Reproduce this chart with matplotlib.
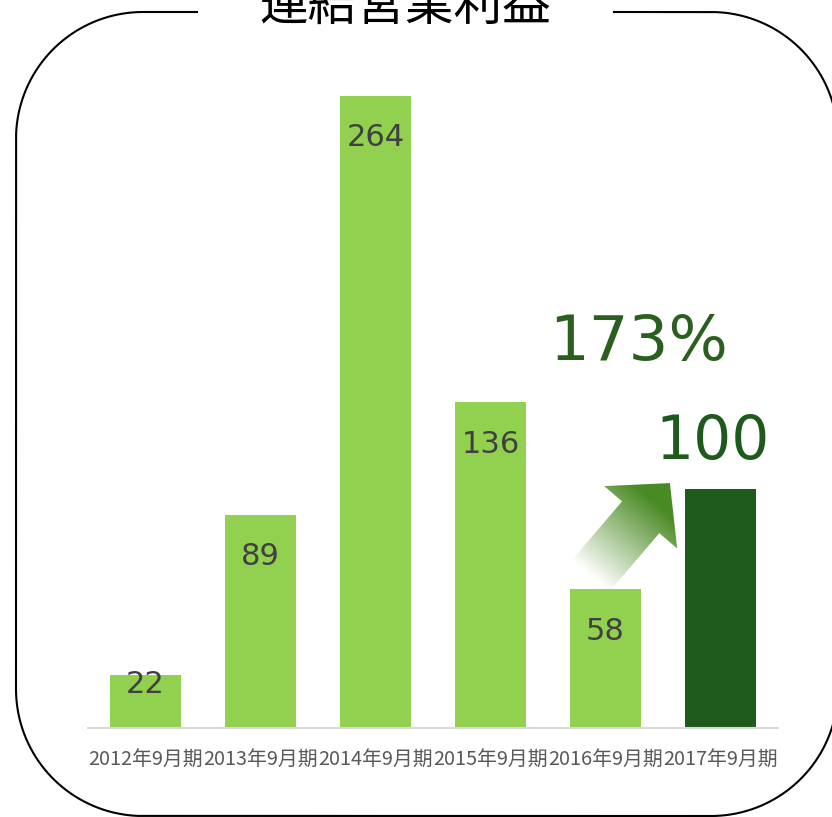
import matplotlib.pyplot as plt
import numpy as np
from matplotlib.patches import Rectangle, Polygon

plt.rcParams['font.family'] = ['Noto Sans CJK JP', 'DejaVu Sans']

# 連結営業利益 (百万円)
periods = ["2012年9月期", "2013年9月期", "2014年9月期", "2015年9月期", "2016年9月期", "2017年9月期"]
profit = [22, 89, 264, 136, 58, 100]
growth_text = "173%"
title = "連結営業利益"

light_green = "#92d050"
dark_green = "#1f5a1d"
label_grey = "#404040"

W, H = 832, 817
fig = plt.figure(figsize=(W / 100, H / 100), dpi=100)

# background layer in pixel coordinates: frame, title, arrow
bg = fig.add_axes([0, 0, 1, 1], zorder=0)
bg.set_xlim(0, W)
bg.set_ylim(0, H)
bg.axis("off")

ax = fig.add_axes([88 / W, 89 / H, 690 / W, 668 / H], zorder=1)
ax.patch.set_alpha(0)

x = np.arange(len(periods))
colors = [light_green] * (len(periods) - 1) + [dark_green]
ax.bar(x, profit, width=0.62, color=colors, zorder=2)
ax.set_xlim(-0.5, len(periods) - 0.5)
ax.set_ylim(0, 279)

for s in ["top", "right", "left"]:
    ax.spines[s].set_visible(False)
ax.spines["bottom"].set_color("#d9d9d9")
ax.spines["bottom"].set_linewidth(1.5)
ax.set_yticks([])
ax.set_xticks(x)
ax.set_xticklabels(periods, fontsize=14.3, color="#595959")
ax.tick_params(axis="x", length=0, pad=15)

# values inside the bars, the last one large above its bar
for i, v in enumerate(profit[:-1]):
    ax.text(i, max(v - 17.5, 18.0), str(v), ha="center", va="center",
            fontsize=22, color=label_grey, family="DejaVu Sans", zorder=3)
ax.annotate(str(profit[-1]), (x[-1], profit[-1]), xytext=(-6, 33),
            textcoords="offset points", ha="center", va="center",
            fontsize=43, color=dark_green, family="DejaVu Sans")
ax.text(4.29, 161, growth_text, ha="center", va="center",
        fontsize=45, color="#2b5f1f", family="DejaVu Sans")

# rounded frame, open at the top for the title
def corner(cx, cy, r, a0, a1):
    a = np.radians(np.linspace(a0, a1, 40))
    return np.c_[cx + r * np.cos(a), cy + r * np.sin(a)]

left, right, bottom, top, r = 16, 838, 1, 805, 127
outline = np.vstack([
    [[614, top]],
    corner(right - r, top - r, r, 90, 0),
    corner(right - r, bottom + r, r, 0, -90),
    corner(left + r, bottom + r, r, -90, -180),
    corner(left + r, top - r, r, 180, 90),
    [[197, top]],
])
bg.plot(outline[:, 0], outline[:, 1], color="black", lw=1.5, clip_on=False)
bg.text(405, H - 21, title, ha="center", va="baseline", fontsize=35, color="black", zorder=3)

# gradient arrow from the 2016 bar towards 2017
tail = np.array(ax.transData.transform((3.87, 63.5)))
tip = np.array(ax.transData.transform((4.56, 102.3)))
d = (tip - tail) / np.linalg.norm(tip - tail)
n = np.array([-d[1], d[0]])
L = np.linalg.norm(tip - tail)
shaft, head_w, head_l = 24.5, 48, 45
base = tail + d * (L - head_l)
pts = np.array([tail + n * shaft, base + n * shaft, base + n * head_w, tip,
                base - n * head_w, base - n * shaft, tail - n * shaft])
arrow = Polygon(pts, closed=True, facecolor="none", edgecolor="none")
bg.add_patch(arrow)

x0, y0 = pts.min(axis=0) - 2
x1, y1 = pts.max(axis=0) + 2
gx, gy = np.meshgrid(np.linspace(x0, x1, 200), np.linspace(y0, y1, 200))
t = ((gx - tail[0]) * d[0] + (gy - tail[1]) * d[1]) / (0.8 * L)
t = np.clip(t, 0, 1)[..., None]
end = np.array([0x4a, 0x8a, 0x24]) / 255
img = (1 - t) * np.ones(3) + t * end
im = bg.imshow(img, extent=(x0, x1, y0, y1), origin="lower", aspect="auto", zorder=1)
im.set_clip_path(arrow)

fig.savefig("out.png", dpi=100)
